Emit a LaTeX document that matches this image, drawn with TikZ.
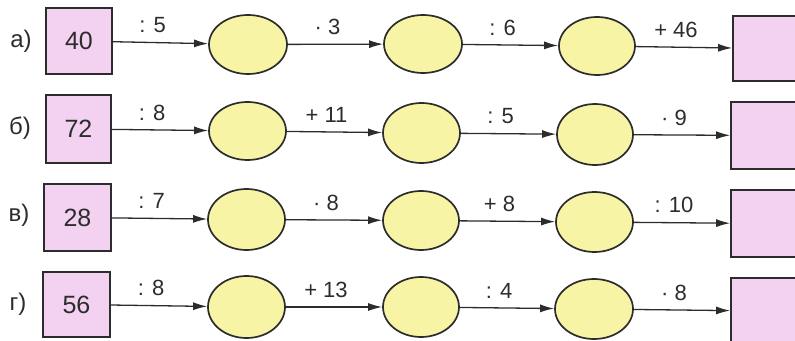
\documentclass[tikz,border=0pt]{standalone}
\usepackage{fontspec}
\setmainfont{Liberation Sans}
\usetikzlibrary{arrows.meta,shapes.geometric}
\definecolor{ink}{HTML}{2C2C2C}
\definecolor{boxpink}{HTML}{F2D2F0}
\definecolor{ovalyel}{HTML}{F8F4A6}
\tikzset{
  numbox/.style={draw=ink, line width=1.7pt, fill=boxpink, minimum width=66pt, minimum height=66pt, inner sep=0pt, font=\fontsize{25}{25}\selectfont, text=ink},
  oval/.style={ellipse, draw=ink, line width=1.7pt, fill=ovalyel, inner sep=0pt},
  arr/.style={draw=ink, line width=1.3pt, -{Latex[length=14pt,width=8pt]}},
  lab/.style={above=9pt, xshift=-8pt, inner sep=0pt, font=\fontsize{22}{22}\selectfont, text=ink},
  rowlab/.style={inner sep=0pt, font=\fontsize{24}{24}\selectfont, text=ink}
}
\begin{document}
\begin{tikzpicture}[x=1pt,y=-1pt]
\useasboundingbox (0,0) rectangle (795,340);
\clip (0,0) rectangle (795,340);
% row a
\node[rowlab] (la) at (21,41) {а)};
\node[numbox] (a0) at (79,41) {40};
\node[oval, minimum width=78pt, minimum height=59pt] (a1) at (248,44.5) {};
\node[oval, minimum width=78pt, minimum height=58pt] (a2) at (423,44) {};
\node[oval, minimum width=76pt, minimum height=58pt] (a3) at (597,46) {};
\node[numbox, minimum height=65pt] (a4) at (766,48.5) {};
\draw[arr] (a0) -- node[lab] {: 5} (a1);
\draw[arr] (a1) -- node[lab] {· 3} (a2);
\draw[arr] (a2) -- node[lab] {: 6} (a3);
\draw[arr] (a3) -- node[lab] {+ 46} (a4);
% row b
\node[rowlab] (lb) at (20,128) {б)};
\node[numbox, minimum width=65pt, minimum height=68pt] (b0) at (78.5,129) {72};
\node[oval, minimum width=77pt, minimum height=58pt] (b1) at (247.5,131) {};
\node[oval, minimum width=77pt, minimum height=60pt] (b2) at (421.5,133) {};
\node[oval, minimum width=76pt, minimum height=61pt] (b3) at (595,134.5) {};
\node[numbox, minimum height=67pt] (b4) at (764,135.5) {};
\draw[arr] (b0) -- node[lab] {: 8} (b1);
\draw[arr] (b1) -- node[lab] {+ 11} (b2);
\draw[arr] (b2) -- node[lab] {: 5} (b3);
\draw[arr] (b3) -- node[lab] {· 9} (b4);
% row v
\node[rowlab] (lv) at (19,215) {в)};
\node[numbox, minimum width=67pt, minimum height=67pt] (v0) at (77.5,217.5) {28};
\node[oval, minimum width=77pt, minimum height=61pt] (v1) at (246.5,219.5) {};
\node[oval, minimum width=76pt, minimum height=59pt] (v2) at (421,220.5) {};
\node[oval, minimum width=77pt, minimum height=60pt] (v3) at (594.5,222) {};
\node[numbox, minimum height=67pt] (v4) at (764,223.5) {};
\draw[arr] (v0) -- node[lab] {: 7} (v1);
\draw[arr] (v1) -- node[lab] {· 8} (v2);
\draw[arr] (v2) -- node[lab] {+ 8} (v3);
\draw[arr] (v3) -- node[lab] {: 10} (v4);
% row g
\node[rowlab] (lg) at (18,304) {г)};
\node[numbox, minimum width=67pt, minimum height=65pt] (g0) at (76.5,304.5) {56};
\node[oval, minimum width=77pt, minimum height=62pt] (g1) at (246.5,307) {};
\node[oval, minimum width=76pt, minimum height=60pt] (g2) at (421,307) {};
\node[oval, minimum width=78pt, minimum height=60pt] (g3) at (594,309) {};
\node[numbox, minimum height=66pt] (g4) at (764,311) {};
\draw[arr] (g0) -- node[lab] {: 8} (g1);
\draw[arr] (g1) -- node[lab] {+ 13} (g2);
\draw[arr] (g2) -- node[lab] {: 4} (g3);
\draw[arr] (g3) -- node[lab] {· 8} (g4);
\end{tikzpicture}
\end{document}
